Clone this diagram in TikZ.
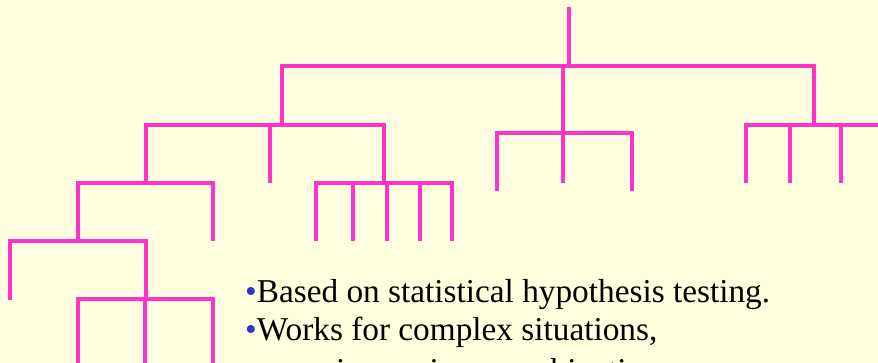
\documentclass[tikz,border=0pt]{standalone}
\usepackage{fontspec}
\setmainfont{Liberation Serif}
\usepackage{xcolor}
\usepackage{tikz}
\usetikzlibrary{positioning}
\definecolor{bgyellow}{RGB}{255,255,224}
\definecolor{branchpink}{RGB}{255,51,204}
\definecolor{bulletblue}{RGB}{51,51,204}

\begin{document}
\begin{tikzpicture}[x=1pt,y=-1pt, every node/.style={font=\fontsize{33.3}{40}\selectfont,inner sep=0pt,anchor=base west}, branch/.style={draw=branchpink,line width=4pt}]
\useasboundingbox (0,0) rectangle (878,363);
\fill[bgyellow] (0,0) rectangle (878,363);
\clip (0,0) rectangle (878,363);
% branch points
\coordinate (top) at (569,7); \coordinate (root) at (569,66);
\coordinate (left) at (282,125); \coordinate (mid) at (563,133); \coordinate (right) at (814,125);
\coordinate (ll) at (146,183); \coordinate (lm) at (270,183); \coordinate (lr) at (384,183);
\coordinate (lll) at (78,241); \coordinate (llr) at (213,241);
\coordinate (llll) at (10,300); \coordinate (lllr) at (146,299);
\coordinate (ma) at (497,191); \coordinate (mb) at (563,183); \coordinate (mc) at (632,191);
\draw[branch] (top)--(root); \draw[branch] (root)-|(left); \draw[branch] (root)-|(mid); \draw[branch] (root)-|(right);
\draw[branch] (left)-|(ll); \draw[branch] (left)-|(lm); \draw[branch] (left)-|(lr);
\draw[branch] (ll)-|(lll); \draw[branch] (ll)-|(llr);
\draw[branch] (lll)-|(llll); \draw[branch] (lll)-|(lllr);
\draw[branch] (mid)-|(ma); \draw[branch] (mid)-|(mb); \draw[branch] (mid)-|(mc);
% leaves
\foreach \x [count=\i] in {78,145,213} {\coordinate (lllr\i) at (\x,372); \draw[branch] (lllr)-|(lllr\i);}
\foreach \x [count=\i] in {316,353,387,420,452} {\coordinate (lr\i) at (\x,241); \draw[branch] (lr)-|(lr\i);}
\foreach \x [count=\i] in {746,790,841,900} {\coordinate (right\i) at (\x,183); \draw[branch] (right)-|(right\i);}
% text
\node (b1) at (245,302) {{\color{bulletblue}•}Based on statistical hypothesis testing.};
\node (b2) at (245,341) {{\color{bulletblue}•}Works for complex situations,};
\node (b3) at (262,381) {covering various combinations};
\end{tikzpicture}
\end{document}
